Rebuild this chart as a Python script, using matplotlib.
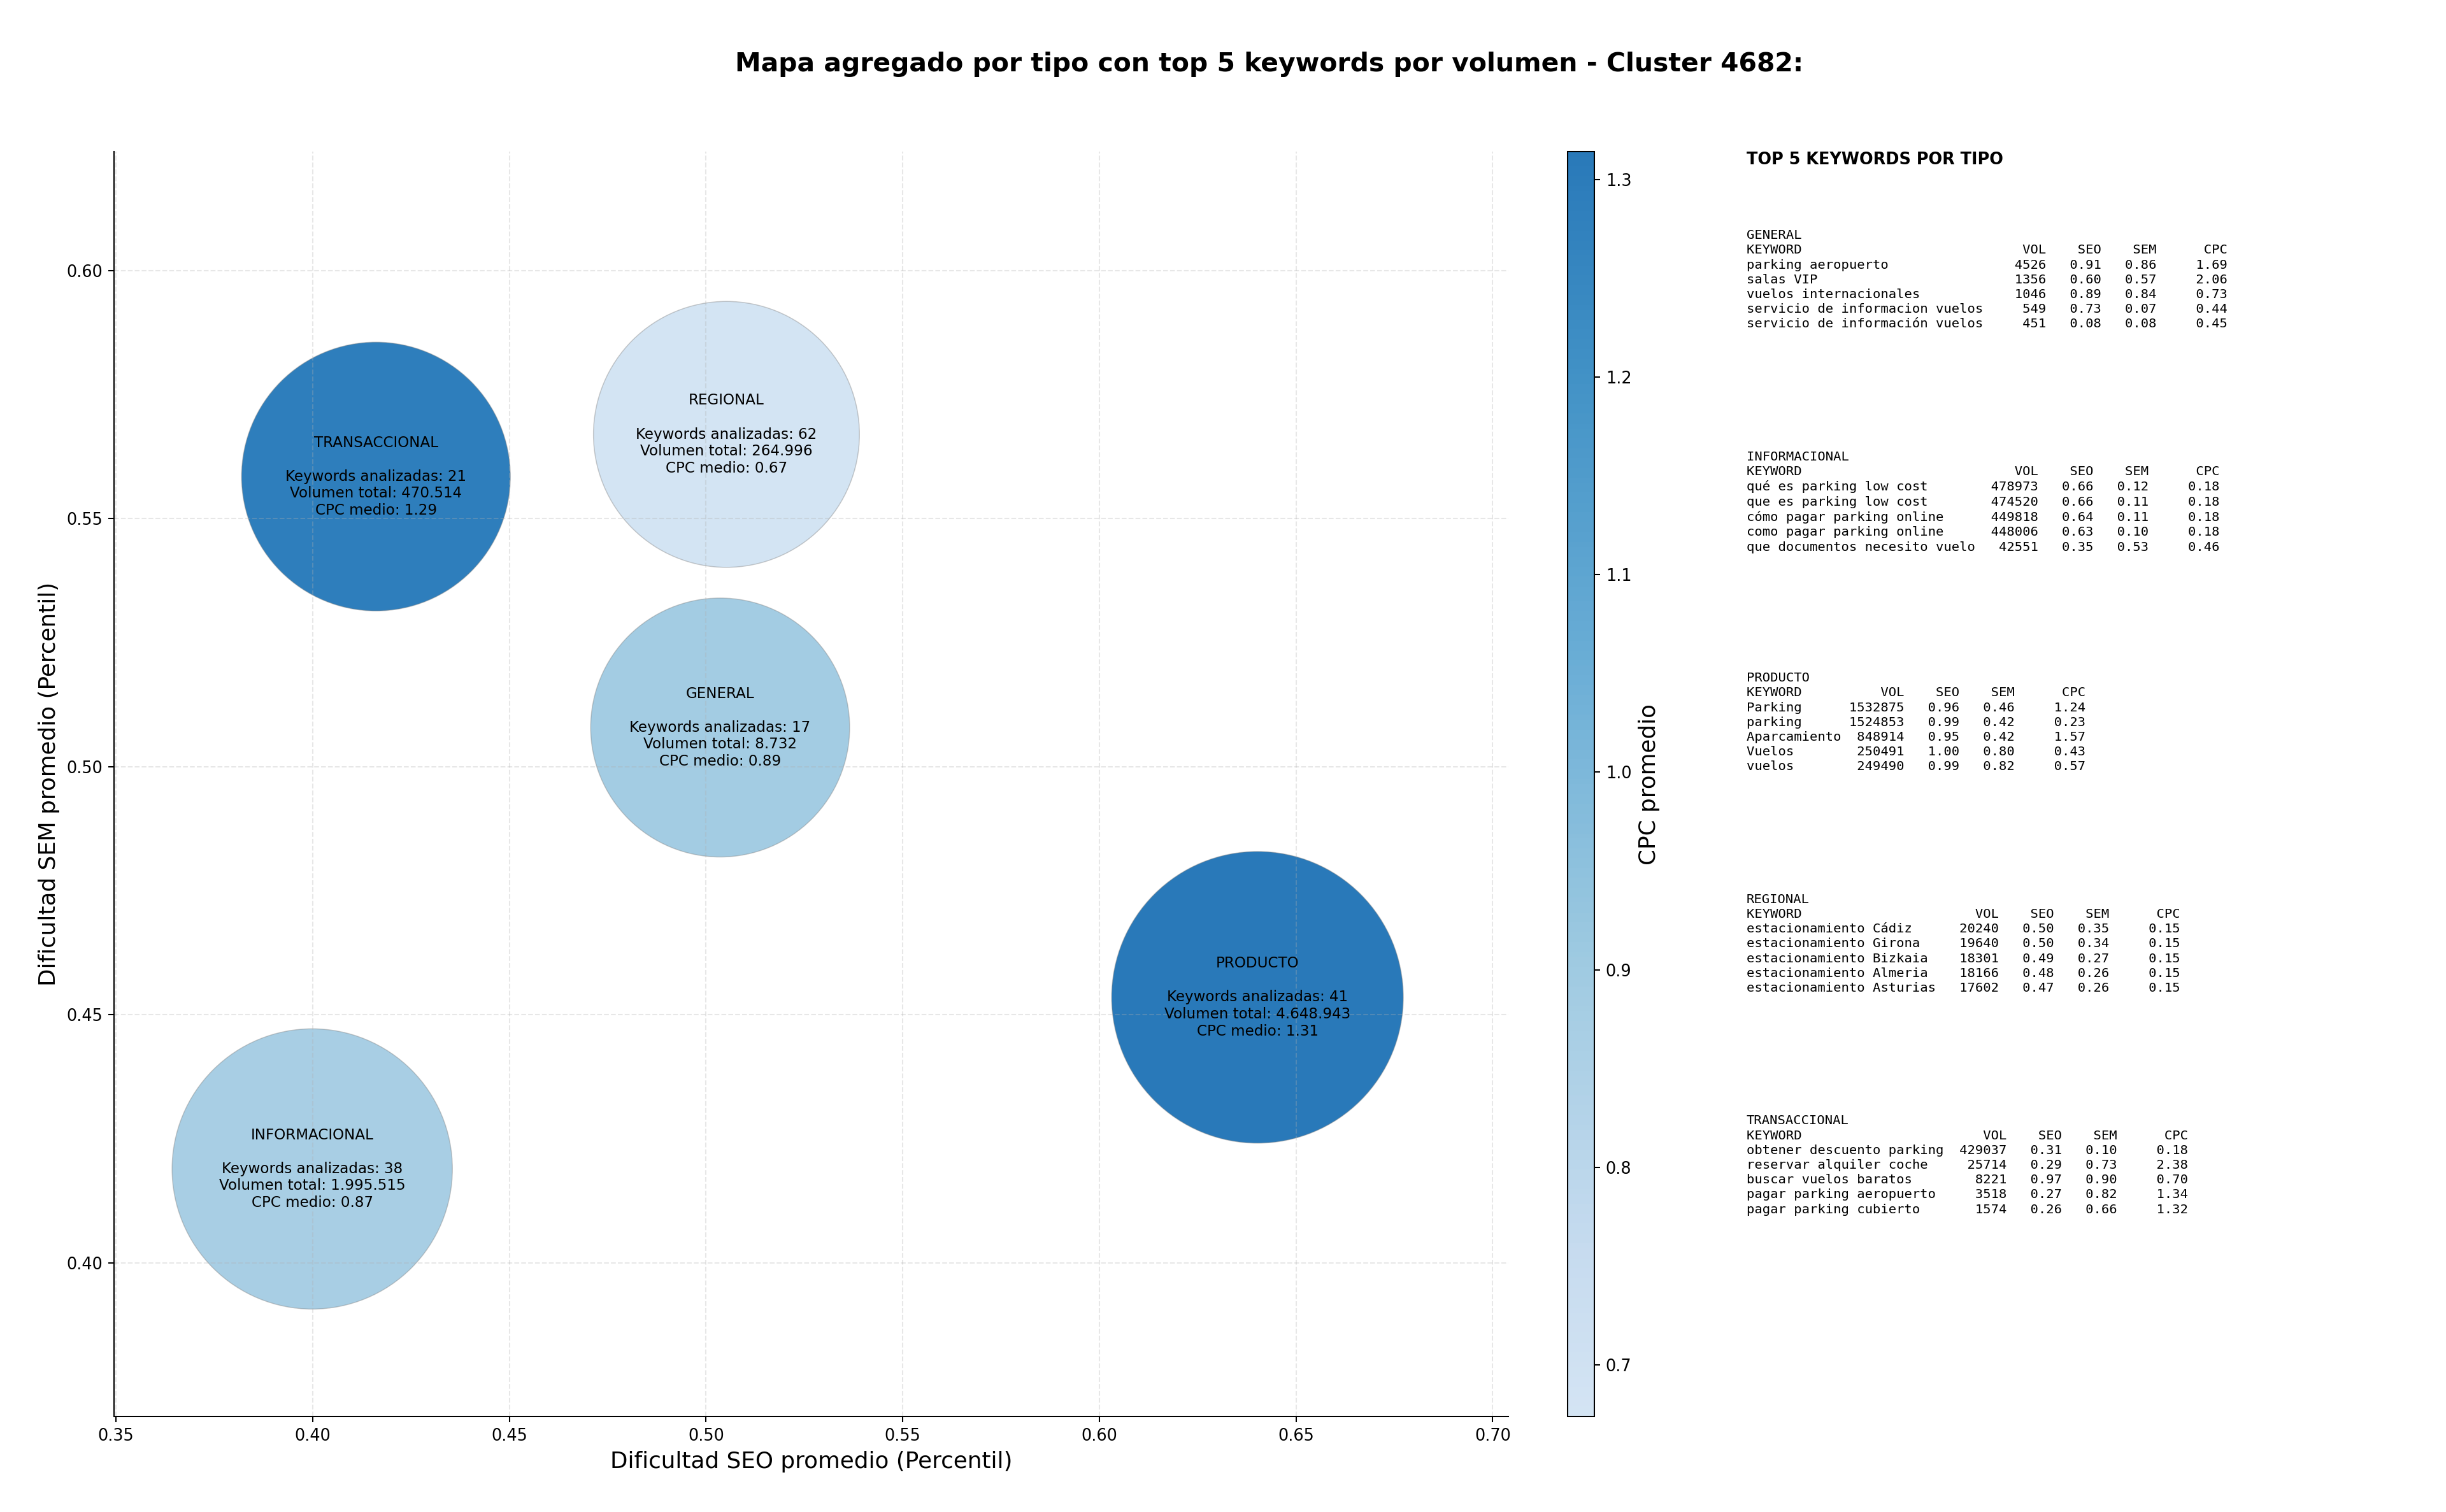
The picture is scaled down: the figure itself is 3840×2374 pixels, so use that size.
import matplotlib
matplotlib.use('Agg')
import matplotlib.pyplot as plt
import matplotlib.colors as mcolors
import numpy as np

# datos agregados por tipo
tipos = ['GENERAL', 'INFORMACIONAL', 'PRODUCTO', 'REGIONAL', 'TRANSACCIONAL']
seo_medio = [0.5036, 0.3999, 0.6402, 0.5052, 0.4161]
sem_medio = [0.5079, 0.4189, 0.4535, 0.5670, 0.5585]
n_keywords = [17, 38, 41, 62, 21]
volumen_total = [8732, 1995515, 4648943, 264996, 470514]
cpc_medio = [0.89, 0.87, 1.314, 0.674, 1.29]

# top 5 keywords por tipo: (keyword, vol, seo, sem, cpc)
top_general = [
    ('parking aeropuerto', 4526, 0.91, 0.86, 1.69),
    ('salas VIP', 1356, 0.60, 0.57, 2.06),
    ('vuelos internacionales', 1046, 0.89, 0.84, 0.73),
    ('servicio de informacion vuelos', 549, 0.73, 0.07, 0.44),
    ('servicio de información vuelos', 451, 0.08, 0.08, 0.45),
]
top_informacional = [
    ('qué es parking low cost', 478973, 0.66, 0.12, 0.18),
    ('que es parking low cost', 474520, 0.66, 0.11, 0.18),
    ('cómo pagar parking online', 449818, 0.64, 0.11, 0.18),
    ('como pagar parking online', 448006, 0.63, 0.10, 0.18),
    ('que documentos necesito vuelo', 42551, 0.35, 0.53, 0.46),
]
top_producto = [
    ('Parking', 1532875, 0.96, 0.46, 1.24),
    ('parking', 1524853, 0.99, 0.42, 0.23),
    ('Aparcamiento', 848914, 0.95, 0.42, 1.57),
    ('Vuelos', 250491, 1.00, 0.80, 0.43),
    ('vuelos', 249490, 0.99, 0.82, 0.57),
]
top_regional = [
    ('estacionamiento Cádiz', 20240, 0.50, 0.35, 0.15),
    ('estacionamiento Girona', 19640, 0.50, 0.34, 0.15),
    ('estacionamiento Bizkaia', 18301, 0.49, 0.27, 0.15),
    ('estacionamiento Almeria', 18166, 0.48, 0.26, 0.15),
    ('estacionamiento Asturias', 17602, 0.47, 0.26, 0.15),
]
top_transaccional = [
    ('obtener descuento parking', 429037, 0.31, 0.10, 0.18),
    ('reservar alquiler coche', 25714, 0.29, 0.73, 2.38),
    ('buscar vuelos baratos', 8221, 0.97, 0.90, 0.70),
    ('pagar parking aeropuerto', 3518, 0.27, 0.82, 1.34),
    ('pagar parking cubierto', 1574, 0.26, 0.66, 1.32),
]
tops = [top_general, top_informacional, top_producto, top_regional, top_transaccional]

W, H, DPI = 3840, 2374, 184
fig = plt.figure(figsize=(W / DPI, H / DPI), dpi=DPI)
ax = fig.add_axes([0.0466, 0.0632, 0.5701, 0.8365])
cax = fig.add_axes([0.641, 0.0632, 0.0108, 0.8365])
tax = fig.add_axes([0.714, 0.0632, 0.28, 0.8365])
tax.axis('off')

# Blues recortado
base = plt.get_cmap('Blues')
cmap = mcolors.LinearSegmentedColormap.from_list('blues_cut', base(np.linspace(0.18, 0.72, 256)))

vol = np.array(volumen_total, dtype=float)
sizes = 25000 + 7100 * np.sqrt(vol / vol.max())

sc = ax.scatter(seo_medio, sem_medio, s=sizes, c=cpc_medio, cmap=cmap,
                vmin=min(cpc_medio), vmax=max(cpc_medio),
                edgecolors=(0.5, 0.5, 0.5, 0.4), linewidths=0.6)

for i, t in enumerate(tipos):
    vol_str = f'{volumen_total[i]:,}'.replace(',', '.')
    label = (f'{t}\n\nKeywords analizadas: {n_keywords[i]}\n'
             f'Volumen total: {vol_str}\nCPC medio: {cpc_medio[i]:.2f}')
    ax.text(seo_medio[i], sem_medio[i], label, ha='center', va='center', fontsize=9)

ax.set_xlim(0.3495, 0.704)
ax.set_ylim(0.369, 0.624)
ax.set_xlabel('Dificultad SEO promedio (Percentil)', fontsize=14)
ax.set_ylabel('Dificultad SEM promedio (Percentil)', fontsize=14)
ax.grid(True, linestyle='--', alpha=0.3)
ax.spines['top'].set_visible(False)
ax.spines['right'].set_visible(False)

cb = fig.colorbar(sc, cax=cax)
cb.set_label('CPC promedio', fontsize=14)

fig.suptitle('Mapa agregado por tipo con top 5 keywords por volumen - Cluster 4682:',
             fontsize=16, fontweight='bold', x=0.519, y=0.966)

# panel de texto
tax.text(0.0, 1.0, 'TOP 5 KEYWORDS POR TIPO', transform=tax.transAxes,
         ha='left', va='top', fontsize=10, fontweight='bold')
for i, (t, rows) in enumerate(zip(tipos, tops)):
    w = max(len(r[0]) for r in rows)
    lines = [t, f"{'KEYWORD':<{w}}{'VOL':>8}{'SEO':>7}{'SEM':>7}{'CPC':>9}"]
    for kw, v, seo, sem, cpc in rows:
        lines.append(f'{kw:<{w}}{v:>8}{seo:>7.2f}{sem:>7.2f}{cpc:>9.2f}')
    tax.text(0.0, 0.9385 - i * 0.175, '\n'.join(lines), transform=tax.transAxes,
             ha='left', va='top', fontsize=8, family='monospace', linespacing=1.28)

fig.savefig('out.png', dpi=DPI)
